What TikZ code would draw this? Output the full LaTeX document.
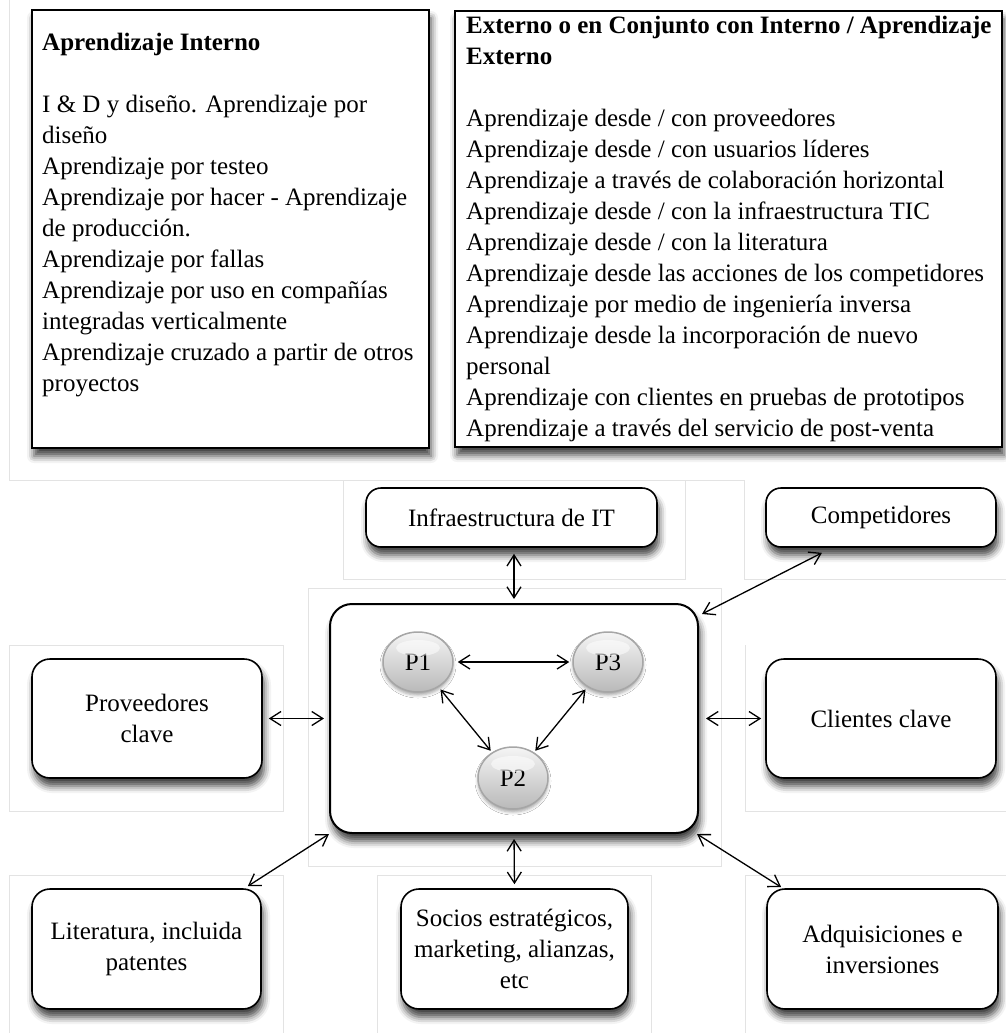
\documentclass[tikz,border=0pt]{standalone}
\usepackage{fontspec}
\setmainfont{Liberation Serif}
\usetikzlibrary{arrows.meta,shapes.geometric,shadows.blur,calc}
\begin{document}
\begin{tikzpicture}[x=1pt,y=-1pt,
  shd/.style={blur shadow={shadow xshift=2pt,shadow yshift=-8pt,shadow blur radius=7pt,shadow opacity=75}},
  txtbox/.style={draw=black,line width=1.6pt,fill=white,shd,inner sep=0pt},
  rbox/.style={draw=black,line width=1.6pt,fill=white,rounded corners=18pt,shd,inner sep=0pt,align=center,font=\fontsize{25}{31}\selectfont},
  frame/.style={draw=gray!22,line width=0.8pt},
  body/.style={anchor=north west,inner sep=0pt,align=left,font=\fontsize{25}{31}\selectfont},
  pnode/.style={ellipse,draw=gray!70,line width=1.5pt,top color=gray!8,bottom color=gray!55,minimum width=70pt,minimum height=60pt,inner sep=0pt,font=\fontsize{25}{30}\selectfont,blur shadow={shadow xshift=0pt,shadow yshift=-3pt,shadow blur radius=3pt,shadow opacity=35}},
  link/.style={<->,>={Straight Barb[length=11pt,width=14pt]},line width=1.3pt}
]
\useasboundingbox (0,0) rectangle (1006,1033);

% faint frames
\draw[frame] (9,0) -- (9,480) -- (343,480);
\draw[frame] (343,480) rectangle (685,579);
\draw[frame] (685,480) -- (744,480) -- (744,579) -- (1006,579);
\draw[frame] (308,588) rectangle (721,866);
\draw[frame] (9,645) rectangle (283,811);
\draw[frame] (745,645) -- (745,811) -- (1006,811);
\draw[frame] (9,1033) -- (9,875) -- (283,875) -- (283,1033);
\draw[frame] (377,1033) -- (377,875) -- (651,875) -- (651,1033);
\draw[frame] (745,1033) -- (745,875) -- (1006,875);

% top text boxes
\node[txtbox,minimum width=397pt,minimum height=438pt] (intbox) at (230.5,229) {};
\node[txtbox,minimum width=547pt,minimum height=436pt] (extbox) at (728.5,229) {};
\node[body] (inttxt) at (42,28.3) {\strut\textbf{Aprendizaje Interno}\\[31pt]
I \& D y diseño. Aprendizaje por\\
diseño\\
Aprendizaje por testeo\\
Aprendizaje por hacer - Aprendizaje\\
de producción.\\
Aprendizaje por fallas\\
Aprendizaje por uso en compañías\\
integradas verticalmente\\
Aprendizaje cruzado a partir de otros\\
proyectos};
\node[body] (exttxt) at (466,11.3) {\strut\textbf{Externo o en Conjunto con Interno / Aprendizaje}\\
\textbf{Externo}\\[31pt]
Aprendizaje desde / con proveedores\\
Aprendizaje desde / con usuarios líderes\\
Aprendizaje a través de colaboración horizontal\\
Aprendizaje desde / con la infraestructura TIC\\
Aprendizaje desde / con la literatura\\
Aprendizaje desde las acciones de los competidores\\
Aprendizaje por medio de ingeniería inversa\\
Aprendizaje desde la incorporación de nuevo\\
personal\\
Aprendizaje con clientes en pruebas de prototipos\\
Aprendizaje a través del servicio de post-venta};

% rounded boxes
\node[rbox,minimum width=291pt,minimum height=59pt,rounded corners=15pt] (infra) at (511.5,517.5) {Infraestructura de IT};
\node[rbox,minimum width=230pt,minimum height=59pt,rounded corners=15pt] (comp) at (881,517.5) {Competidores};
\node[rbox,minimum width=368pt,minimum height=229pt,rounded corners=22pt,line width=2pt] (central) at (514,718.5) {};
\node[rbox,minimum width=230pt,minimum height=119pt] (prov) at (147,718.5) {Proveedores\\clave};
\node[rbox,minimum width=230pt,minimum height=119pt] (clientes) at (881,718.5) {Clientes clave};
\node[rbox,minimum width=229pt,minimum height=120pt] (lit) at (146.5,949) {Literatura, incluida\\patentes};
\node[rbox,minimum width=227pt,minimum height=120pt] (socios) at (514.5,949) {Socios estratégicos,\\marketing, alianzas,\\etc};
\node[rbox,minimum width=231pt,minimum height=120pt] (adq) at (882.5,949) {Adquisiciones e\\inversiones};

% P nodes
\node[pnode] (p1) at (418,662) {P1};
\node[pnode] (p3) at (608,662) {P3};
\node[pnode,minimum height=62pt] (p2) at (513,778) {P2};
\foreach \p in {p1,p2,p3}{
  \fill[white,opacity=0.55] ([yshift=14pt]\p.center) ellipse [x radius=22pt, y radius=8pt];
}

% connectors
\draw[link,shorten <=4pt,shorten >=3pt] (p1) -- (p3);
\draw[link,shorten <=3pt,shorten >=2pt] (p1) -- (p2);
\draw[link,shorten <=3pt,shorten >=2pt] (p3) -- (p2);

\draw[link,shorten <=6pt,shorten >=4pt] (central.north |- infra.south) -- (central.north);
\draw[link,shorten <=6pt,shorten >=5pt] (prov.east) -- (central.west);
\draw[link,shorten <=7pt,shorten >=4pt] (central.east) -- (clientes.west);
\draw[link,shorten <=5pt,shorten >=4pt] (central.south) -- (socios.north);
\draw[link] ([shift={(3,11)}]central.north east) -- ([shift={(-59,5)}]comp.south);
\draw[link] ([shift={(-14,-2)}]lit.north east) -- (central.south west);
\draw[link] ([xshift=-2pt]central.south east) -- ([shift={(15,-1)}]adq.north west);
\end{tikzpicture}
\end{document}
